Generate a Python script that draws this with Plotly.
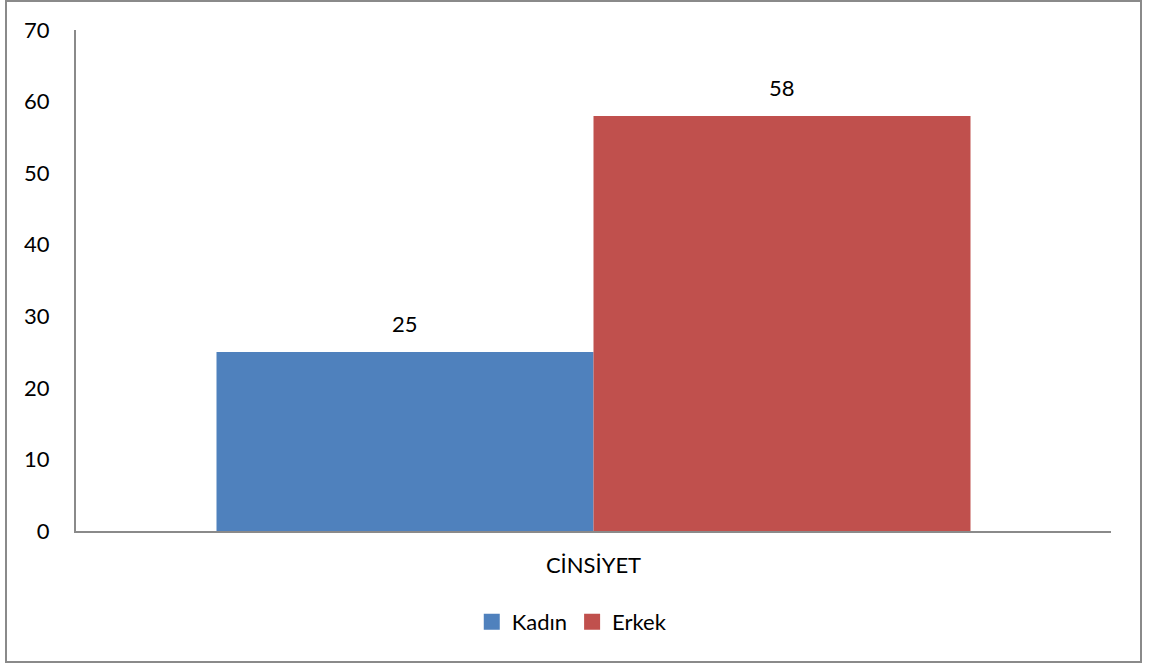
import plotly.graph_objects as go

# Gender breakdown
category = ["CİNSİYET"]
series_names = ["Kadın", "Erkek"]
series_values = [[25], [58]]
series_colors = ["#4F81BD", "#C0504D"]
y_ticks = [0, 10, 20, 30, 40, 50, 60, 70]

W, H = 1149, 666
L, R, T, B = 76, 38, 30, 135
FONT = "Lato, Carlito, Calibri, 'Open Sans', sans-serif"
FS = 22

fig = go.Figure()
for name, vals, col in zip(series_names, series_values, series_colors):
    fig.add_trace(go.Bar(
        x=category, y=vals, name=name,
        marker=dict(color=col, line=dict(width=0)),
        offsetgroup=name, showlegend=False, legendgroup=name,
    ))

# legend entries with square swatches
for name, col in zip(series_names, series_colors):
    fig.add_trace(go.Scatter(
        x=[None], y=[None], name=name, mode="markers",
        marker=dict(symbol="square", size=16, color=col),
        legendgroup=name, hoverinfo="skip",
    ))

# value labels above each bar
pw = W - L - R
ph = H - T - B
for i, (name, vals) in enumerate(zip(series_names, series_values)):
    for c, v in zip(category, vals):
        fig.add_annotation(
            x=c, y=v, text=str(v), showarrow=False,
            xref="x", yref="y", yanchor="bottom",
            xshift=(i - 0.5) * pw * (1 - 0.2715) / 2,
            yshift=13, font=dict(size=FS, color="#000000", family=FONT),
        )

# outer frame around the whole chart
fig.add_shape(
    type="rect", xref="paper", yref="paper",
    x0=(6 - L) / pw, x1=(1141 - L) / pw,
    y0=(H - B - 662) / ph, y1=(H - B - 1) / ph,
    line=dict(color="#8A8A8A", width=2), fillcolor="rgba(0,0,0,0)",
)

fig.update_layout(
    width=W, height=H,
    margin=dict(l=L, r=R, t=T, b=B),
    paper_bgcolor="white", plot_bgcolor="white",
    barmode="group", bargap=0.2715, bargroupgap=0,
    font=dict(family=FONT, size=FS, color="#000000"),
    showlegend=True,
    legend=dict(
        orientation="h", x=0.479, xanchor="center",
        y=(H - B - 622) / ph, yanchor="middle",
        font=dict(size=FS, family=FONT, color="#000000"),
        itemwidth=30, traceorder="normal",
    ),
    xaxis=dict(
        showline=True, linecolor="#8A8A8A", linewidth=2,
        showgrid=False, zeroline=False, ticks="",
        ticklabelstandoff=14,
        tickfont=dict(size=FS, family=FONT, color="#000000"),
    ),
    yaxis=dict(
        range=[0, 70], tickvals=y_ticks,
        showline=True, linecolor="#8A8A8A", linewidth=2,
        showgrid=False, zeroline=False, ticks="",
        ticklabelstandoff=20,
        tickfont=dict(size=FS, family=FONT, color="#000000"),
    ),
)

fig.write_html("out.html")
